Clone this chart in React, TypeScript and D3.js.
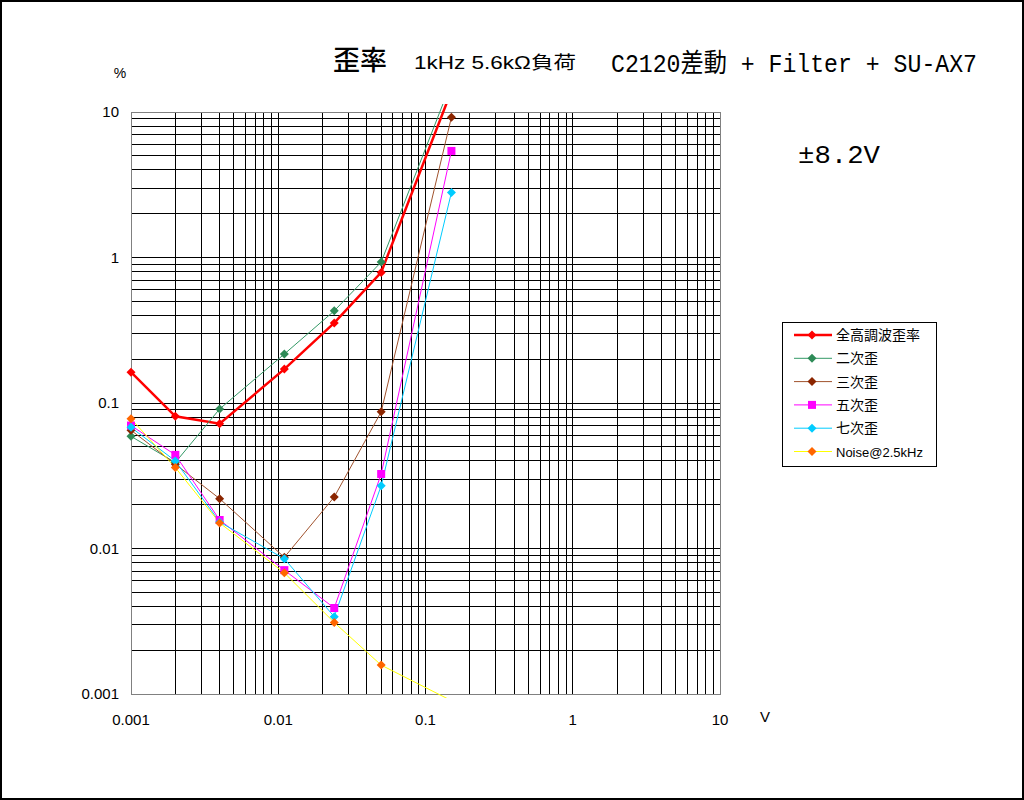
import React from "react";
import * as d3 from "d3";

const xValues = [0.001, 0.002, 0.004, 0.011, 0.024, 0.05, 0.15];
const thd = [0.163, 0.081, 0.072, 0.171, 0.355, 0.79, 14];
const h2 = [0.059, 0.039, 0.091, 0.217, 0.43, 0.93, 16];
const h3 = [0.065, 0.038, 0.022, 0.0087, 0.0226, 0.087, 9.2];
const h5 = [0.07, 0.044, 0.0157, 0.0071, 0.0039, 0.0325, 5.4];
const h7 = [0.068, 0.04, 0.0152, 0.0085, 0.0034, 0.027, 2.8];
const noise = [0.078, 0.036, 0.015, 0.0068, 0.0031, 0.00158, 0.0009];

const xTickLabels = ["0.001", "0.01", "0.1", "1", "10"];
const yTickLabels = ["0.001", "0.01", "0.1", "1", "10"];

const seriesNames = ["全高調波歪率", "二次歪", "三次歪", "五次歪", "七次歪", "Noise@2.5kHz"];

const series = [
  { name: seriesNames[0], values: thd, line: "#ff0000", marker: "#ff0000", width: 2.5, shape: "diamond" },
  { name: seriesNames[1], values: h2, line: "#339966", marker: "#2e8b57", width: 1, shape: "diamond" },
  { name: seriesNames[2], values: h3, line: "#a0522d", marker: "#8b2500", width: 1, shape: "diamond" },
  { name: seriesNames[3], values: h5, line: "#ff00ff", marker: "#ff00ff", width: 1, shape: "square" },
  { name: seriesNames[4], values: h7, line: "#00ccff", marker: "#00ccff", width: 1, shape: "diamond" },
  { name: seriesNames[5], values: noise, line: "#ffff00", marker: "#ff6600", width: 1, shape: "diamond" },
];

const L = 131, R = 720, T = 112, B = 694;

function Marker({ x, y, shape, color }: { x: number; y: number; shape: string; color: string }) {
  if (shape === "square") {
    return <rect x={x - 4} y={y - 4} width={8} height={8} fill={color} />;
  }
  const s = 4.5;
  return <path d={`M${x},${y - s}L${x + s},${y}L${x},${y + s}L${x - s},${y}Z`} fill={color} />;
}

export default function App() {
  const x = d3.scaleLog().domain([0.001, 10]).range([L, R]);
  const y = d3.scaleLog().domain([0.001, 10]).range([B, T]);

  const gridVals: number[] = [];
  for (let d = -3; d <= 0; d++) {
    for (let k = 1; k <= 9; k++) gridVals.push(k * Math.pow(10, d));
  }
  gridVals.push(10);

  const line = d3
    .line<[number, number]>()
    .x((d) => x(d[0]))
    .y((d) => y(d[1]));

  const majors = [0.001, 0.01, 0.1, 1, 10];

  return (
    <svg
      width={1024}
      height={800}
      style={{ position: "absolute", left: 0, top: 0, background: "#fff" }}
    >
      <defs>
        <clipPath id="plotclip">
          <rect x={L - 10} y={T - 8} width={R - L + 20} height={B - T + 12} />
        </clipPath>
      </defs>
      <rect x={0} y={0} width={1024} height={800} fill="#fff" />
      <rect x={1} y={1} width={1022} height={798} fill="none" stroke="#000" strokeWidth={2} />

      {/* grid */}
      {gridVals.map((v, i) => (
        <line key={"v" + i} x1={x(v)} x2={x(v)} y1={T} y2={B} stroke="#000" strokeWidth={1} shapeRendering="crispEdges" />
      ))}
      {gridVals.map((v, i) => (
        <line key={"h" + i} x1={L} x2={R} y1={y(v)} y2={y(v)} stroke="#000" strokeWidth={1} shapeRendering="crispEdges" />
      ))}
      <rect x={L} y={T} width={R - L} height={B - T} fill="none" stroke="#808080" strokeWidth={1} shapeRendering="crispEdges" />

      {/* tick labels */}
      {majors.map((v, i) => (
        <text key={"yl" + i} x={119} y={y(v) + 5} textAnchor="end" fontFamily="Liberation Sans, Arial, sans-serif" fontSize={15} fill="#000">
          {yTickLabels[i]}
        </text>
      ))}
      {majors.map((v, i) => (
        <text key={"xl" + i} x={x(v)} y={725} textAnchor="middle" fontFamily="Liberation Sans, Arial, sans-serif" fontSize={15} fill="#000">
          {xTickLabels[i]}
        </text>
      ))}
      <text x={120} y={78} textAnchor="middle" fontFamily="Liberation Sans, Arial, sans-serif" fontSize={14} fill="#000">%</text>
      <text x={765} y={722} textAnchor="middle" fontFamily="Liberation Sans, Arial, sans-serif" fontSize={15} fill="#000">V</text>

      {/* series */}
      <g clipPath="url(#plotclip)">
        {series.map((s, si) => (
          <path
            key={"l" + si}
            d={line(xValues.map((xv, i) => [xv, s.values[i]] as [number, number])) || ""}
            fill="none"
            stroke={s.line}
            strokeWidth={s.width}
          />
        ))}
      </g>
      {series.map((s, si) => (
        <g key={"m" + si}>
          {xValues.map((xv, i) => {
            const v = s.values[i];
            if (v > 10 || v < 0.001) return null;
            return <Marker key={i} x={x(xv)} y={y(v)} shape={s.shape} color={s.marker} />;
          })}
        </g>
      ))}

      {/* titles */}
      <text x={333} y={70} fontFamily="Noto Sans CJK JP" fontSize={27} fontWeight={500} fill="#000">歪率</text>
      <text x={414} y={69} fontFamily="Liberation Sans, Noto Sans CJK JP" fontSize={18} fill="#000" textLength={162} lengthAdjust="spacingAndGlyphs">1kHz 5.6kΩ負荷</text>
      <text x={611} y={72} fontFamily="Liberation Mono, Noto Sans CJK JP" fontSize={26} fill="#000" textLength={366} lengthAdjust="spacingAndGlyphs">C2120差動 + Filter + SU-AX7</text>
      <text x={798} y={163} fontFamily="Liberation Mono, Noto Sans CJK JP" fontSize={26} fill="#000" textLength={82} lengthAdjust="spacingAndGlyphs">±8.2V</text>

      {/* legend */}
      <rect x={782.5} y={322.5} width={154} height={144} fill="#fff" stroke="#000" strokeWidth={1} />
      {series.map((s, i) => {
        const ly = 335 + i * 23.3;
        return (
          <g key={"lg" + i}>
            <line x1={794} x2={832} y1={ly} y2={ly} stroke={s.line} strokeWidth={s.width} />
            <Marker x={812} y={ly} shape={s.shape} color={s.marker} />
            <text
              x={836}
              y={ly + 5}
              fontFamily={i === 5 ? "Liberation Sans, Arial, sans-serif" : "Noto Sans CJK JP"}
              fontSize={i === 5 ? 13 : 14}
              fill="#000"
            >
              {s.name}
            </text>
          </g>
        );
      })}
    </svg>
  );
}
